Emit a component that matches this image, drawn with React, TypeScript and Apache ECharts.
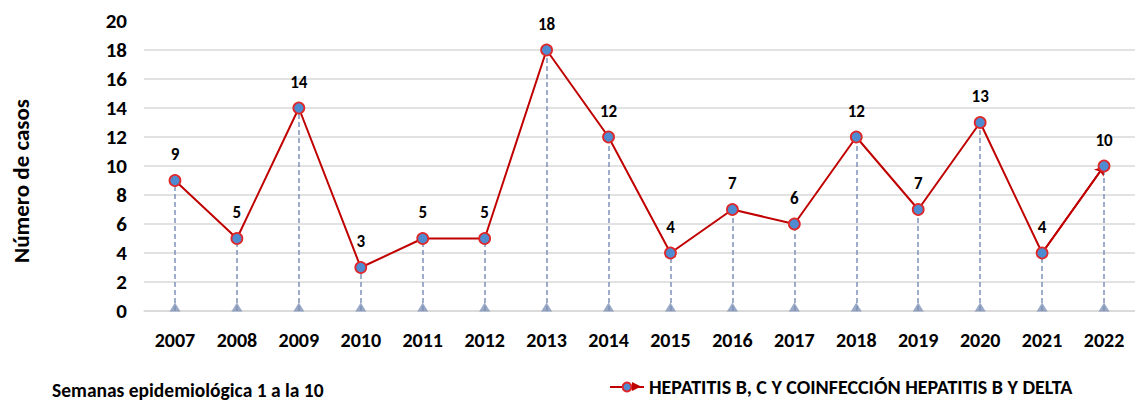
import React, { useEffect, useRef } from "react";
import * as echarts from "echarts";

const years = ["2007","2008","2009","2010","2011","2012","2013","2014","2015","2016","2017","2018","2019","2020","2021","2022"];
const cases = [9, 5, 14, 3, 5, 5, 18, 12, 4, 7, 6, 12, 7, 13, 4, 10];
const yTicks = { min: 0, max: 20, interval: 2 };
const seriesName = "HEPATITIS B, C Y COINFECCIÓN HEPATITIS B Y DELTA";
const yTitle = "Número de casos";
const footnote = "Semanas epidemiológica 1 a la 10";

const FONT = "Carlito, Calibri, Lato, sans-serif";

export default function App() {
  const ref = useRef<HTMLDivElement>(null);
  useEffect(() => {
    const chart = echarts.init(ref.current!, null, { renderer: "svg" });
    const n = cases.length;
    chart.setOption({
      animation: false,
      textStyle: { fontFamily: FONT },
      grid: [
        { left: 144, width: 994, top: 21, bottom: 92 },
        { left: 144, width: 994, top: 50, bottom: 92 },
      ],
      xAxis: [
        {
          type: "category",
          data: years,
          gridIndex: 0,
          boundaryGap: true,
          axisLine: { show: true, lineStyle: { color: "#d9d9d9", width: 1.5 } },
          axisTick: { show: false },
          axisLabel: { color: "#000", fontWeight: "bold", fontSize: 20, margin: 19, fontFamily: FONT },
          splitLine: { show: false },
        },
        {
          type: "category",
          data: years,
          gridIndex: 1,
          show: false,
        },
      ],
      yAxis: [
        {
          type: "value",
          gridIndex: 0,
          min: yTicks.min,
          max: yTicks.max,
          interval: yTicks.interval,
          axisLine: { show: false },
          axisTick: { show: false },
          splitLine: { show: false },
          axisLabel: { color: "#000", fontWeight: "bold", fontSize: 21, margin: 17, fontFamily: FONT },
        },
        {
          type: "value",
          gridIndex: 1,
          min: 0,
          max: yTicks.max - yTicks.interval,
          interval: yTicks.interval,
          axisLine: { show: false },
          axisTick: { show: false },
          axisLabel: { show: false },
          splitLine: { show: true, lineStyle: { color: "#d9d9d9", width: 1.5 } },
        },
      ],
      legend: {
        show: true,
        left: 604,
        top: 372,
        itemWidth: 34,
        itemHeight: 11,
        itemGap: 5,
        textStyle: { color: "#000", fontWeight: "bold", fontSize: 20, fontFamily: FONT },
        data: [{ name: seriesName }],
      },
      graphic: [
        {
          type: "text",
          left: 52,
          top: 380,
          style: { text: footnote, fill: "#000", font: `bold 19.5px ${FONT}` },
        },
        {
          type: "text",
          x: 21,
          y: 181,
          rotation: Math.PI / 2,
          style: {
            text: yTitle,
            fill: "#000",
            font: `bold 23px ${FONT}`,
            align: "center",
            verticalAlign: "middle",
          },
        },
        {
          type: "polygon",
          shape: { points: [[632, 382], [641, 386.5], [632, 391]] },
          style: { fill: "#c00000" },
          z: 100,
        },
      ],
      series: [
        {
          type: "scatter",
          xAxisIndex: 0,
          yAxisIndex: 0,
          data: cases.map(() => 0),
          symbol: "triangle",
          symbolSize: [11, 9],
          symbolOffset: [0, -4],
          itemStyle: { color: "#7f93b8" },
          silent: true,
          z: 3,
          markLine: {
            silent: true,
            symbol: ["none", "none"],
            label: { show: false },
            lineStyle: { color: "#7f93b8", type: [5, 3], width: 1.5 },
            data: cases.map((v, i) => [
              { coord: [i, 0] },
              { coord: [i, v] },
            ]),
          },
        },
        {
          name: seriesName,
          type: "line",
          xAxisIndex: 0,
          yAxisIndex: 0,
          data: cases,
          z: 5,
          symbol: "circle",
          symbolSize: 11,
          showAllSymbol: true,
          lineStyle: { color: "#c00000", width: 2 },
          itemStyle: { color: "#4f8bd0", borderColor: "#e0282a", borderWidth: 1.8 },
          label: {
            show: true,
            position: "top",
            distance: 11,
            color: "#000",
            fontWeight: "bold",
            fontSize: 17,
            fontFamily: FONT,
          },
          markLine: {
            silent: true,
            symbol: ["none", "arrow"],
            symbolSize: 9,
            label: { show: false },
            lineStyle: { color: "#c00000", type: "solid", width: 2 },
            data: [[{ coord: [n - 2, cases[n - 2]] }, { coord: [n - 1, cases[n - 1]] }]],
          },
        },
      ],
    });
    return () => chart.dispose();
  }, []);
  return (
    <div
      ref={ref}
      style={{ position: "fixed", left: 0, top: 0, width: 1135, height: 403, background: "#fff" }}
    />
  );
}
